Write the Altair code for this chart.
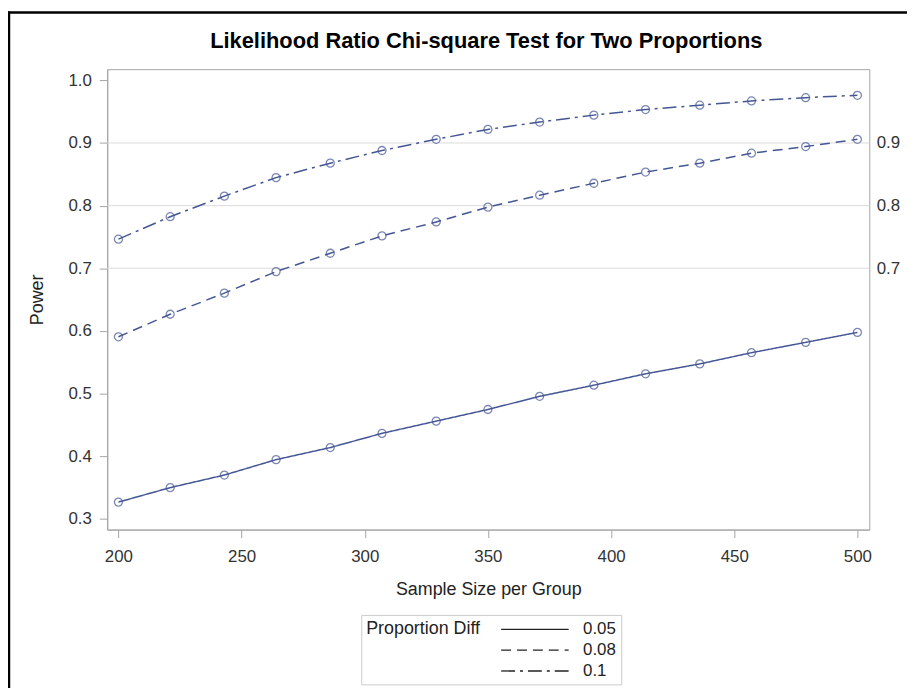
import altair as alt
import pandas as pd

# ---- data ----
sample_size = [200, 221, 243, 264, 286, 307, 329, 350, 371, 393, 414, 436, 457, 479, 500]
power_005 = [0.3265, 0.3496, 0.3697, 0.3943, 0.4136, 0.4363, 0.4558, 0.4744,
             0.4954, 0.5132, 0.5314, 0.5472, 0.5651, 0.5816, 0.5975]
power_008 = [0.5905, 0.6265, 0.6602, 0.6946, 0.7239, 0.7517, 0.7739, 0.7976,
             0.8166, 0.8357, 0.8536, 0.8678, 0.8837, 0.8943, 0.9059]
power_010 = [0.7464, 0.7823, 0.8151, 0.8447, 0.8678, 0.8880, 0.9059, 0.9217,
             0.9334, 0.9445, 0.9534, 0.9604, 0.9672, 0.9724, 0.9762]
diff_labels = ["0.05", "0.08", "0.1"]
ref_lines = [0.7, 0.8, 0.9]
x_ticks = [200, 250, 300, 350, 400, 450, 500]
y_ticks = [0.3, 0.4, 0.5, 0.6, 0.7, 0.8, 0.9, 1.0]
title_text = ["Likelihood Ratio Chi-square Test for Two Proportions"]

rows = []
for lab, series in zip(diff_labels, [power_005, power_008, power_010]):
    for n, p in zip(sample_size, series):
        rows.append({"n": n, "power": p, "diff": lab})
df = pd.DataFrame(rows)
refs = pd.DataFrame({"v": ref_lines})
titles = pd.DataFrame({"t": title_text})

FONT = "Liberation Sans"
LINE = "#445694"
FRAME = "#a4a4a4"

x_dom = [195.45, 504.83]
y_dom = [0.2826, 1.0179]

xs = alt.Scale(domain=x_dom, nice=False, zero=False)
ys = alt.Scale(domain=y_dom, nice=False, zero=False)

x_enc = alt.X("n:Q", scale=xs, axis=alt.Axis(
    title="Sample Size per Group", values=x_ticks, grid=False, tickSize=8,
    labelPadding=11, titlePadding=16, labelFontSize=17, titleFontSize=18,
    labelFont=FONT, titleFont=FONT, titleFontWeight="normal",
    labelColor="#333333", titleColor="#222222", tickColor=FRAME,
    domainColor=FRAME, format="d"))

y_enc = alt.Y("power:Q", scale=ys, axis=alt.Axis(
    title="Power", orient="left", values=y_ticks, grid=False, tickSize=8,
    labelPadding=8, titlePadding=22, labelFontSize=17, titleFontSize=18,
    labelFont=FONT, titleFont=FONT, titleFontWeight="normal",
    labelColor="#333333", titleColor="#222222", tickColor=FRAME,
    domainColor=FRAME, format=".1f"))

dash_scale = alt.Scale(domain=diff_labels,
                       range=[[1, 0], [10, 6], [14, 5, 3, 5]])

lines = alt.Chart(df).mark_line(color=LINE, strokeWidth=1.5).encode(
    x=x_enc,
    y=y_enc,
    strokeDash=alt.StrokeDash("diff:N", scale=dash_scale, sort=diff_labels,
                              legend=alt.Legend(title="Proportion Diff")),
)

points = alt.Chart(df).mark_point(shape="circle", filled=False, color=LINE,
                                  size=65, strokeWidth=1.3).encode(
    x=alt.X("n:Q", scale=xs),
    y=alt.Y("power:Q", scale=ys),
    detail="diff:N",
)

data_layer = alt.layer(lines, points)

ref_rules = alt.Chart(refs).mark_rule(color="#dcdcdc", strokeWidth=1).encode(
    y=alt.Y("v:Q", scale=ys, axis=alt.Axis(
        orient="right", values=ref_lines, title=None, ticks=False, tickSize=0,
        domain=False, grid=False, labelPadding=7, labelFontSize=17,
        labelFont=FONT, labelColor="#333333", format=".1f")),
)

# chart title as real text above the plot area
title_mark = alt.Chart(titles).mark_text(
    font=FONT, fontSize=22, fontWeight="bold", color="black",
    align="center", baseline="alphabetic").encode(
    text="t:N", x=alt.value(382), y=alt.value(-21))

# decorative outer border (top and left edges of the page frame)
one = pd.DataFrame({"a": [0]})
border_top = alt.Chart(one).mark_rule(color="black", strokeWidth=2.5).encode(
    x=alt.value(-100), x2=alt.value(806), y=alt.value(-57))
border_left = alt.Chart(one).mark_rule(color="black", strokeWidth=2.5).encode(
    x=alt.value(-99), y=alt.value(-58), y2=alt.value(700))

chart = alt.layer(ref_rules, data_layer, title_mark, border_top, border_left).resolve_scale(
    y="independent"
).properties(
    width=768,
    height=464,
    padding={"left": 100, "top": 59, "right": 38, "bottom": 157},
    autosize=alt.AutoSizeParams(type="none"),
).configure_view(
    stroke=FRAME, strokeWidth=1
).configure_legend(
    orient="none", legendX=256, legendY=550,
    strokeColor="#cccccc", padding=5, fillColor="white",
    titleOrient="left", titleAnchor="start", titleBaseline="top",
    titleFont=FONT, titleFontSize=18,
    titleFontWeight="normal", titleColor="#222222", titlePadding=20,
    labelFont=FONT, labelFontSize=17, labelColor="#222222",
    symbolType="M-4,0H4", symbolSize=289, symbolStrokeWidth=1.3,
    symbolStrokeColor="#222222", symbolOffset=25.5, labelOffset=39,
    rowPadding=3,
)

chart.save("out.html", embed_options={"renderer": "svg", "actions": False})
